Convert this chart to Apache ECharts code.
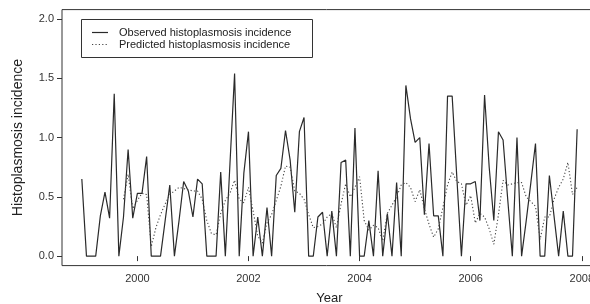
<!DOCTYPE html>
<html>
<head>
<meta charset="utf-8">
<script src="https://cdn.jsdelivr.net/npm/echarts@6/dist/echarts.min.js"></script>
<style>
  html, body { margin: 0; padding: 0; background: #fff; }
  #chart { width: 590px; height: 304px; }
</style>
</head>
<body>
<div id="chart"></div>
<script>
// monthly series, Jan 1999 .. Dec 2007
const startYear = 1999
const observed = [
  0.65, 0, 0, 0, 0.34, 0.54, 0.32, 1.37, 0, 0.33, 0.90, 0.32,
  0.53, 0.53, 0.84, 0, 0, 0, 0.30, 0.60, 0, 0.30, 0.63, 0.55,
  0.33, 0.65, 0.61, 0, 0, 0, 0.71, 0, 0.78, 1.54, 0, 0.70,
  1.05, 0, 0.33, 0, 0.41, 0, 0.68, 0.74, 1.06, 0.81, 0.37, 1.05,
  1.17, 0, 0, 0.33, 0.37, 0, 0.38, 0, 0.79, 0.81, 0, 1.08,
  0, 0, 0.30, 0, 0.72, 0, 0.36, 0, 0.62, 0, 1.44, 1.16,
  0.96, 1.00, 0.35, 0.95, 0.34, 0.34, 0, 1.35, 1.35, 0.67, 0, 0.61,
  0.61, 0.63, 0.30, 1.36, 0.75, 0.30, 1.05, 0.98, 0.48, 0, 1.00, 0,
  0.30, 0.62, 0.95, 0, 0, 0.68, 0.34, 0, 0.38, 0, 0, 1.07
]
// predictions begin in Oct 1999
const predStart = 9
const predicted = [
  0.48, 0.69, 0.40,
  0.47, 0.53, 0.52, 0.08, 0.24, 0.35, 0.44, 0.52, 0.55, 0.58, 0.57, 0.56,
  0.55, 0.55, 0.48, 0.30, 0.19, 0.18, 0.36, 0.47, 0.53, 0.64, 0.48, 0.45,
  0.58, 0.38, 0.17, 0.11, 0.28, 0.35, 0.47, 0.59, 0.76, 0.75, 0.55, 0.53,
  0.48, 0.35, 0.24, 0.25, 0.27, 0.33, 0.36, 0.24, 0.44, 0.61, 0.50, 0.58,
  0.67, 0.30, 0.22, 0.26, 0.24, 0.13, 0.36, 0.43, 0.50, 0.60, 0.62, 0.58,
  0.46, 0.56, 0.40, 0.27, 0.16, 0.23, 0.41, 0.60, 0.71, 0.63, 0.61, 0.43,
  0.51, 0.28, 0.36, 0.33, 0.23, 0.10, 0.35, 0.64, 0.60, 0.61, 0.62, 0.62,
  0.50, 0.46, 0.42, 0.14, 0.33, 0.33, 0.48, 0.58, 0.65, 0.79, 0.52, 0.58
]
const xTicks = [2000, 2002, 2004, 2006, 2008]
const yTicks = [0, 0.5, 1.0, 1.5, 2.0]

const seriesNames = ['Observed histoplasmosis incidence', 'Predicted histoplasmosis incidence']

const obsData = observed.map((v, i) => [startYear + i / 12, v])
const predData = predicted.map((v, i) => [startYear + (i + predStart) / 12, v])

const font = 'Liberation Sans, Arial, Helvetica, sans-serif'
const ink = '#333'
const obsStyle = { stroke: '#2a2a2a', lineWidth: 1.2 }
const predStyle = { stroke: '#444', lineWidth: 1.1, lineDash: [1.2, 2.2] }

// legend drawn by hand so the dotted key looks like the plot line
const legendBox = [
  { type: 'rect', left: 81, top: 19, shape: { width: 231, height: 38 },
    style: { fill: '#fff', stroke: ink, lineWidth: 1 }, z: 10 },
  { type: 'line', shape: { x1: 92, y1: 32.5, x2: 108, y2: 32.5 }, style: obsStyle, z: 11 },
  { type: 'line', shape: { x1: 92, y1: 44.5, x2: 108, y2: 44.5 }, style: predStyle, z: 11 },
  { type: 'text', x: 119, y: 32.5, z: 11,
    style: { text: seriesNames[0], font: '11px ' + font, fill: '#222', verticalAlign: 'middle' } },
  { type: 'text', x: 119, y: 44.5, z: 11,
    style: { text: seriesNames[1], font: '11px ' + font, fill: '#222', verticalAlign: 'middle' } }
]

const chart = echarts.init(document.getElementById('chart'))
chart.setOption({
  animation: false,
  backgroundColor: '#fff',
  textStyle: { fontFamily: font },
  grid: {
    left: 62, top: 9.6, width: 535, height: 256,
    outerBoundsMode: 'none', containLabel: false,
    show: true, borderColor: ink, borderWidth: 1, backgroundColor: 'transparent'
  },
  graphic: legendBox,
  xAxis: {
    type: 'value',
    min: 1998.643, max: 2008.274,
    name: 'Year', nameLocation: 'middle', nameGap: 26,
    nameTextStyle: { fontSize: 13, color: '#222', fontFamily: font },
    axisLine: { show: false },
    axisTick: { show: true, length: 5, lineStyle: { color: ink }, customValues: xTicks },
    axisLabel: { fontSize: 11, color: ink, margin: 8, customValues: xTicks, formatter: v => String(v) },
    splitLine: { show: false }
  },
  yAxis: {
    type: 'value',
    min: -0.08, max: 2.08,
    name: 'Histoplasmosis incidence', nameLocation: 'middle', nameGap: 37,
    nameTextStyle: { fontSize: 14, color: '#222', fontFamily: font },
    axisLine: { show: false },
    axisTick: { show: true, length: 5, lineStyle: { color: ink }, customValues: yTicks },
    axisLabel: { fontSize: 11, color: ink, margin: 8, customValues: yTicks, formatter: v => v.toFixed(1) },
    splitLine: { show: false }
  },
  series: [
    {
      name: seriesNames[0], type: 'line', data: obsData,
      symbol: 'none', lineStyle: { color: obsStyle.stroke, width: obsStyle.lineWidth }
    },
    {
      name: seriesNames[1], type: 'line', data: predData,
      symbol: 'none', lineStyle: { color: predStyle.stroke, width: predStyle.lineWidth, type: predStyle.lineDash }
    }
  ]
})
</script>
</body>
</html>
